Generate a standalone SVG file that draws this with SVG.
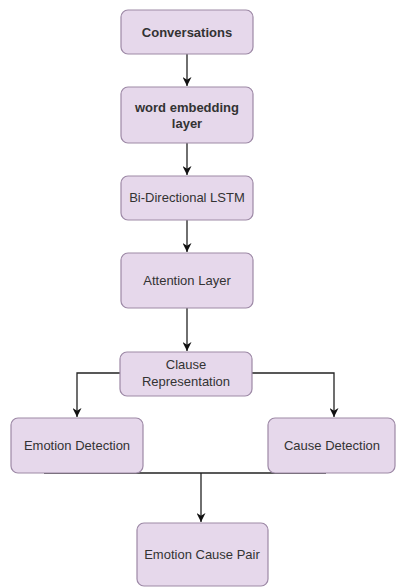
<svg xmlns="http://www.w3.org/2000/svg" width="396" height="588" viewBox="0 0 396 588">
<style>
.box{fill:#e6d8eb;stroke:#9d89a6;stroke-width:1.2}
.t{font-family:"Liberation Sans",Arial,sans-serif;font-size:13px;fill:#333;text-anchor:middle}
.b{font-weight:bold}
.c{fill:none;stroke:#222;stroke-width:1.3}
</style>
<defs>
<marker id="ah" viewBox="0 0 10 10" refX="10" refY="5" markerWidth="9" markerHeight="9" markerUnits="userSpaceOnUse" orient="auto">
<path d="M0,0 L10,5 L0,10 L3,5 z" fill="#111"/>
</marker>
</defs>
<rect width="396" height="588" fill="#fff"/>
<g id="connectors">
<path class="c" d="M187,54 V86" marker-end="url(#ah)"/>
<path class="c" d="M187,143 V175" marker-end="url(#ah)"/>
<path class="c" d="M187,220 V252" marker-end="url(#ah)"/>
<path class="c" d="M187,308 V351" marker-end="url(#ah)"/>
<path class="c" d="M120,373 H77 V417" marker-end="url(#ah)"/>
<path class="c" d="M252,373 H334 V417" marker-end="url(#ah)"/>
<path class="c" d="M44,473 H326"/>
<path class="c" d="M201,473 V522" marker-end="url(#ah)"/>
</g>
<g id="n1"><rect class="box" x="121" y="10" width="132" height="44" rx="7"/><text class="t b" x="187" y="37">Conversations</text></g>
<g id="n2"><rect class="box" x="121" y="87" width="132" height="56" rx="7"/><text class="t b" x="187" y="112">word embedding</text><text class="t b" x="187" y="128">layer</text></g>
<g id="n3"><rect class="box" x="121" y="176" width="132" height="44" rx="7"/><text class="t" x="187" y="202">Bi-Directional LSTM</text></g>
<g id="n4"><rect class="box" x="121" y="253" width="132" height="55" rx="7"/><text class="t" x="187" y="285">Attention Layer</text></g>
<g id="n5"><rect class="box" x="120" y="352" width="132" height="44" rx="7"/><text class="t" x="186" y="369">Clause</text><text class="t" x="186" y="386">Representation</text></g>
<g id="n6"><rect class="box" x="11" y="418" width="132" height="55" rx="7"/><text class="t" x="77" y="450">Emotion Detection</text></g>
<g id="n7"><rect class="box" x="268" y="418" width="127" height="55" rx="7"/><text class="t" x="332" y="450">Cause Detection</text></g>
<g id="n8"><rect class="box" x="137" y="523" width="131" height="63" rx="7"/><text class="t" x="202" y="559">Emotion Cause Pair</text></g>
</svg>
